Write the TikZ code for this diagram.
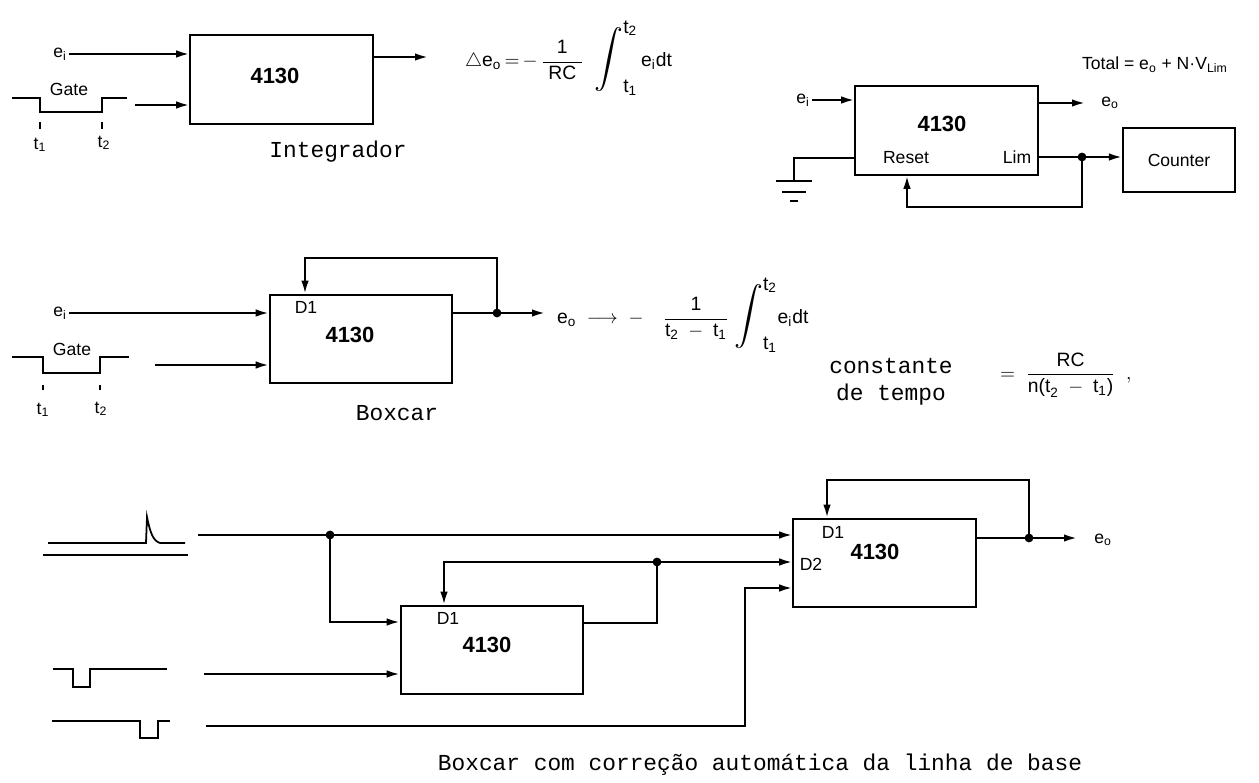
\documentclass[tikz,border=0pt]{standalone}
\usepackage{amsmath}
\usepackage{graphicx}
\usepackage{fontspec}
\setmainfont{Liberation Sans}
\newfontfamily\typew{Liberation Mono}
\usetikzlibrary{arrows.meta}

\newcommand{\tx}[1]{\text{#1}}
\newcommand{\lmt}[1]{\mbox{t\textsubscript{#1}}}
\newcommand{\bigint}{\scalebox{1.5}{$\displaystyle\int$}}

\begin{document}
\begin{tikzpicture}[x=0.02cm, y=-0.02cm,
    blk/.style={draw, line width=1.2pt, minimum width=3.65cm,
                minimum height=1.77cm, inner sep=0pt},
    wire/.style={line width=1.2pt},
    arr/.style={wire, -{Latex[length=2.6mm,width=1.5mm]}},
    sig/.style={line width=1pt},
    lbl/.style={font=\fontsize{10}{12}\selectfont, inner sep=1pt},
    fml/.style={font=\fontsize{11}{13}\selectfont, inner sep=1pt, anchor=west},
    num/.style={font=\fontsize{12.5}{14}\selectfont\bfseries, inner sep=1pt},
    twlbl/.style={font=\fontsize{13}{15.5}\selectfont\typew, inner sep=1pt},
    dot/.style={circle, fill, inner sep=0pt, minimum size=5pt},
]
    \useasboundingbox (0,0) rectangle (1259,783);

    % integrator
    \node[blk] (integ) at (281.5,79.5) {};
    \node[num] (integn) at (275,76) {4130};
    \node[lbl] (ei1) at (60,54) {e\textsubscript{i}};
    \draw[arr] (ei1.east) -- (ei1 -| integ.west);
    \draw[sig] (12,98) -- (40,98) -- (40,112) -- (102,112) -- (102,98) -- (127,98);
    \node[lbl] (gate1) at (69,89) {Gate};
    \draw[sig] (40,122) -- (40,129) (102,122) -- (102,129);
    \node[lbl] (t11) at (40,145) {t\textsubscript{1}};
    \node[lbl] (t21) at (104,143) {t\textsubscript{2}};
    \coordinate (gin1) at (135,105);
    \draw[arr] (gin1) -- (gin1 -| integ.west);
    \coordinate (out1) at (428,57);
    \draw[arr] (out1 -| integ.east) -- (out1);
    \node[fml] (dlt) at (463,58)
        {$\triangle\tx{e}_{\tx{o}}\,{=}\,{-}\,\dfrac{\tx{1}}{\;\tx{RC}\;}\;\;{\bigint}_{\lmt{1}}^{\lmt{2}}\,\tx{e}_{\tx{i}}\tx{dt}$};
    \node[twlbl] (intlbl) at (338,152) {Integrador};

    % integrator with reset and counter
    \node[blk] (reset) at (946.5,130.5) {};
    \node[num] (resetn) at (942,124) {4130};
    \node[lbl] (rst) at (906,158) {Reset};
    \node[lbl] (lim) at (1017,157) {Lim};
    \node[blk, minimum width=2.24cm, minimum height=1.28cm,
          font=\fontsize{10}{12}\selectfont] (cnt) at (1179,160) {Counter};
    \node[lbl] (ei2) at (803,100) {e\textsubscript{i}};
    \draw[arr] (ei2.east) -- (ei2 -| reset.west);
    \coordinate (gnd) at (794,181);
    \draw[wire] (gnd) |- (rst -| reset.west);
    \draw[wire] (776,181) -- (812,181) (782,192) -- (806,192) (790,201) -- (798,201);
    \coordinate (out2) at (1085,103);
    \draw[arr] (out2 -| reset.east) -- (out2);
    \node[lbl] (eo2) at (1110,103) {e\textsubscript{o}};
    \node[dot] (j2) at (1082,157) {};
    \draw[wire] (lim -| reset.east) -- (j2.center);
    \draw[arr] (j2.center) -- (j2 -| cnt.west);
    \draw[arr] (j2.center) |- (907,207) -- (907,0 |- reset.south);
    \node[lbl, anchor=west] (tot) at (1080,65)
        {Total = e\textsubscript{o} + N·V\textsubscript{Lim}};

    % boxcar
    \node[blk] (box) at (361,339) {};
    \node[num] (boxn) at (350,335) {4130};
    \node[lbl] (d1m) at (306,307) {D1};
    \node[lbl] (ei3) at (60,313) {e\textsubscript{i}};
    \draw[arr] (ei3.east) -- (ei3 -| box.west);
    \draw[sig] (12,357) -- (43,357) -- (43,373) -- (100,373) -- (100,357) -- (129,357);
    \node[lbl] (gate2) at (72,349) {Gate};
    \draw[sig] (43,385) -- (43,390) (100,385) -- (100,390);
    \node[lbl] (t12) at (43,410) {t\textsubscript{1}};
    \node[lbl] (t22) at (101,409) {t\textsubscript{2}};
    \coordinate (gin2) at (155,365);
    \draw[arr] (gin2) -- (gin2 -| box.west);
    \node[dot] (j3) at (497,313) {};
    \coordinate (out3) at (545,313);
    \draw[wire] (j3 -| box.east) -- (j3.center);
    \draw[arr] (j3.center) -- (out3);
    \draw[arr] (j3.center) |- (305,258) -- (305,0 |- box.north);
    \node[fml] (bxf) at (555,315)
        {$\tx{e}_{\tx{o}}\; \longrightarrow \;-\quad\dfrac{\tx{1}}{\tx{t}_{\tx{2}}\;-\;\tx{t}_{\tx{1}}}\;{\bigint}_{\lmt{1}}^{\lmt{2}}\tx{e}_{\tx{i}}\tx{dt}$};
    \node[twlbl] (bxlbl) at (397,413) {Boxcar};
    \node[twlbl, align=center] (ctt) at (891,382) {constante\\de tempo};
    \node[fml] (ctf) at (998,375)
        {$= \;\dfrac{\tx{RC}}{\tx{n(t}_{\tx{2}}\;-\;\tx{t}_{\tx{1}}\tx{)}}\;\;,$};

    % boxcar with baseline correction
    \node[blk] (bcB) at (492,650) {};
    \node[num] (bcBn) at (487,645) {4130};
    \node[lbl] (d1b) at (448,618) {D1};
    \node[blk] (bcA) at (884.5,563) {};
    \node[num] (bcAn) at (875,552) {4130};
    \node[lbl] (d1a) at (833,532) {D1};
    \node[lbl] (d2a) at (811,564) {D2};
    \draw[sig] (48,543) -- (146,543) -- (147,517)
        .. controls (150,532) and (153,541) .. (160,543) -- (185,543);
    \draw[sig] (43,555) -- (188,555);
    \draw[sig] (53,669) -- (73,669) -- (73,687) -- (90,687) -- (90,669) -- (167,669);
    \draw[sig] (52,721) -- (140,721) -- (140,738) -- (158,738) -- (158,721) -- (170,721);
    \coordinate (s1) at (198,535);
    \node[dot] (j4) at (330,535) {};
    \draw[wire] (s1) -- (j4.center);
    \draw[arr] (j4.center) -- (j4 -| bcA.west);
    \draw[arr] (j4.center) |- (bcB.west |- 0,622);
    \node[dot] (j5) at (657,562) {};
    \draw[wire] (bcB.east |- 0,623) -| (j5.center);
    \draw[arr] (j5.center) -- (j5 -| bcA.west);
    \draw[arr] (j5.center) -| (444,0 |- bcB.north);
    \coordinate (s2) at (204,674);
    \draw[arr] (s2) -- (s2 -| bcB.west);
    \coordinate (s3) at (206,726);
    \draw[arr] (s3) -| (745,588) -- (745,588 -| bcA.west);
    \node[dot] (j6) at (1029,538) {};
    \coordinate (out4) at (1077,538);
    \draw[wire] (j6 -| bcA.east) -- (j6.center);
    \draw[arr] (j6.center) -- (out4);
    \draw[arr] (j6.center) |- (827,480) -- (827,0 |- bcA.north);
    \node[lbl] (eo4) at (1103,540) {e\textsubscript{o}};
    \node[twlbl] (bclbl) at (760,765) {Boxcar com correção automática da linha de base};
\end{tikzpicture}
\end{document}
